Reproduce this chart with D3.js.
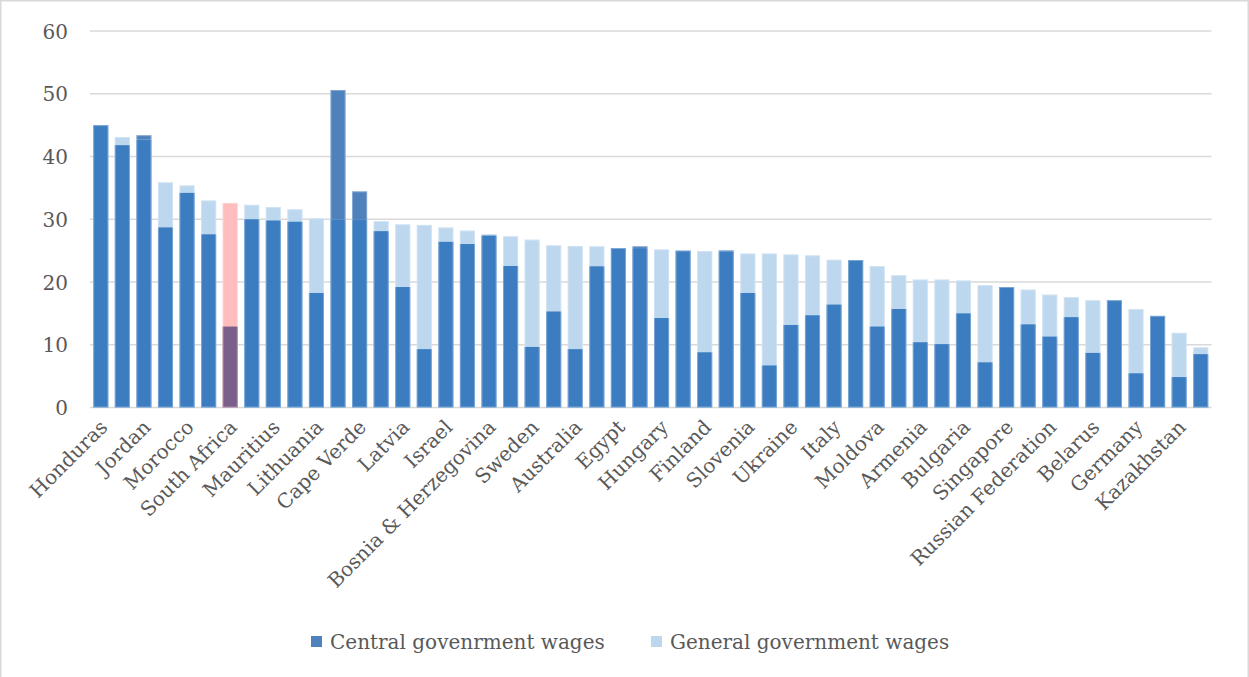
<!DOCTYPE html>
<html>
<head>
<meta charset="utf-8">
<script src="https://cdn.jsdelivr.net/npm/d3@7"></script>
<style>
  html, body { margin: 0; padding: 0; background: #fff; }
  svg { display: block; }
  text { font-family: "DejaVu Serif", "Liberation Serif", serif; fill: #595959; }
</style>
</head>
<body>
<svg id="chart" width="1249" height="677"></svg>
<script>
// Category labels (only every other country is labelled on the axis)
const labels = [
  "Honduras", "", "Jordan", "", "Morocco", "", "South Africa", "", "Mauritius", "",
  "Lithuania", "", "Cape Verde", "", "Latvia", "", "Israel", "", "Bosnia & Herzegovina", "",
  "Sweden", "", "Australia", "", "Egypt", "", "Hungary", "", "Finland", "",
  "Slovenia", "", "Ukraine", "", "Italy", "", "Moldova", "", "Armenia", "",
  "Bulgaria", "", "Singapore", "", "Russian Federation", "", "Belarus", "", "Germany", "",
  "Kazakhstan", ""
];
const centralWages = [
  45.0, 41.8, 43.4, 28.7, 34.2, 27.6, 12.9, 30.0, 29.8, 29.6,
  18.25, 50.6, 34.45, 28.1, 19.2, 9.3, 26.4, 26.05, 27.4, 22.55,
  9.65, 15.3, 9.3, 22.5, 25.4, 25.7, 14.26, 25.0, 8.8, 25.05,
  18.25, 6.7, 13.15, 14.7, 16.4, 23.5, 12.9, 15.7, 10.4, 10.1,
  15.0, 7.2, 19.2, 13.25, 11.3, 14.4, 8.7, 17.1, 5.45, 14.6,
  4.85, 8.5
];
const generalWages = [
  45.0, 43.1, 42.7, 35.9, 35.4, 33.0, 32.6, 32.3, 31.95, 31.6,
  30.15, 30.0, 29.9, 29.7, 29.2, 29.1, 28.7, 28.2, 27.65, 27.3,
  26.75, 25.85, 25.75, 25.7, 25.4, 25.4, 25.2, 25.0, 24.95, 24.9,
  24.55, 24.55, 24.4, 24.25, 23.55, 23.5, 22.55, 21.1, 20.4, 20.4,
  20.25, 19.5, 19.2, 18.8, 18.0, 17.6, 17.1, 17.1, 15.7, 14.6,
  11.9, 9.6
];
const yTicks = [0, 10, 20, 30, 40, 50, 60];
const seriesNames = ["Central govenrment wages", "General government wages"];
const highlighted = "South Africa";

const colors = {
  general: "#BDD7EE",
  centralOver: "#3B7DC0",
  centralSolo: "#4F81BD",
  highlightGeneral: "#FFBDBD",
  highlightCentral: "#7B5E8A",
  grid: "#D9D9D9"
};

const svg = d3.select("#chart");

// Outer frame
svg.append("rect")
  .attr("x", 0.75).attr("y", 0.75)
  .attr("width", 1247.5).attr("height", 720)
  .attr("fill", "none").attr("stroke", colors.grid).attr("stroke-width", 1.5);

const plotLeft = 90, plotRight = 1211.5, plotTop = 31, plotBottom = 407.5;

const x = d3.scaleBand()
  .domain(d3.range(labels.length))
  .range([plotLeft, plotRight])
  .paddingInner(0.3)
  .paddingOuter(0.15);

const y = d3.scaleLinear().domain([0, 60]).range([plotBottom, plotTop]);

// Gridlines
svg.append("g")
  .selectAll("line")
  .data(yTicks)
  .join("line")
  .attr("x1", plotLeft).attr("x2", plotRight)
  .attr("y1", d => y(d)).attr("y2", d => y(d))
  .attr("stroke", colors.grid)
  .attr("stroke-width", 1.5);

// Y axis labels
const yAxis = d3.axisLeft(y).tickValues(yTicks).tickSize(0).tickPadding(0);
const yg = svg.append("g").attr("transform", `translate(${plotLeft - 22},0)`).call(yAxis);
yg.select(".domain").remove();
yg.selectAll("text")
  .style("font-family", '"DejaVu Serif", serif')
  .style("font-size", "20px")
  .attr("fill", "#595959")
  .attr("dy", "0.36em");

const data = labels.map((l, i) => ({ i, label: l, c: centralWages[i], g: generalWages[i], hl: l === highlighted }));

const bars = svg.append("g");
// General government wages (behind)
bars.selectAll("rect.gen")
  .data(data)
  .join("rect")
  .attr("class", "gen")
  .attr("x", d => x(d.i))
  .attr("width", x.bandwidth())
  .attr("y", d => y(d.g))
  .attr("height", d => y(0) - y(d.g))
  .attr("fill", d => d.hl ? colors.highlightGeneral : colors.general);

// Central government wages: overlapping portion
bars.selectAll("rect.cen")
  .data(data)
  .join("rect")
  .attr("class", "cen")
  .attr("x", d => x(d.i))
  .attr("width", x.bandwidth())
  .attr("y", d => y(Math.min(d.c, d.g)))
  .attr("height", d => y(0) - y(Math.min(d.c, d.g)))
  .attr("fill", d => d.hl ? colors.highlightCentral : colors.centralOver);

// Central government wages: portion above general
bars.selectAll("rect.cenTop")
  .data(data.filter(d => d.c > d.g))
  .join("rect")
  .attr("class", "cenTop")
  .attr("x", d => x(d.i))
  .attr("width", x.bandwidth())
  .attr("y", d => y(d.c))
  .attr("height", d => y(d.g) - y(d.c))
  .attr("fill", colors.centralSolo);

// faint light outline around each bar
bars.selectAll("rect.outline")
  .data(data)
  .join("rect")
  .attr("class", "outline")
  .attr("x", d => x(d.i) + 0.5)
  .attr("width", x.bandwidth() - 1)
  .attr("y", d => y(Math.max(d.c, d.g)) + 0.5)
  .attr("height", d => y(0) - y(Math.max(d.c, d.g)) - 1)
  .attr("fill", "none")
  .attr("stroke", "rgba(255,255,255,0.3)")
  .attr("stroke-width", 1);

// X labels
svg.append("g")
  .selectAll("text")
  .data(data.filter(d => d.label !== ""))
  .join("text")
  .attr("transform", d => `translate(${x(d.i) + x.bandwidth() / 2 - 2},${plotBottom + 11}) rotate(-45)`)
  .attr("text-anchor", "end")
  .attr("dy", "0.7em")
  .style("font-size", "20px")
  .text(d => d.label);

// Legend
const legend = svg.append("g");
const legendItems = [
  { name: seriesNames[0], color: colors.centralSolo, x: 311 },
  { name: seriesNames[1], color: colors.general, x: 651 }
];
legend.selectAll("rect")
  .data(legendItems)
  .join("rect")
  .attr("x", d => d.x).attr("y", 636)
  .attr("width", 11).attr("height", 11)
  .attr("fill", d => d.color);
legend.selectAll("text")
  .data(legendItems)
  .join("text")
  .attr("x", d => d.x + 19).attr("y", 642)
  .attr("dy", "0.36em")
  .style("font-size", "20px")
  .text(d => d.name);
</script>
</body>
</html>
